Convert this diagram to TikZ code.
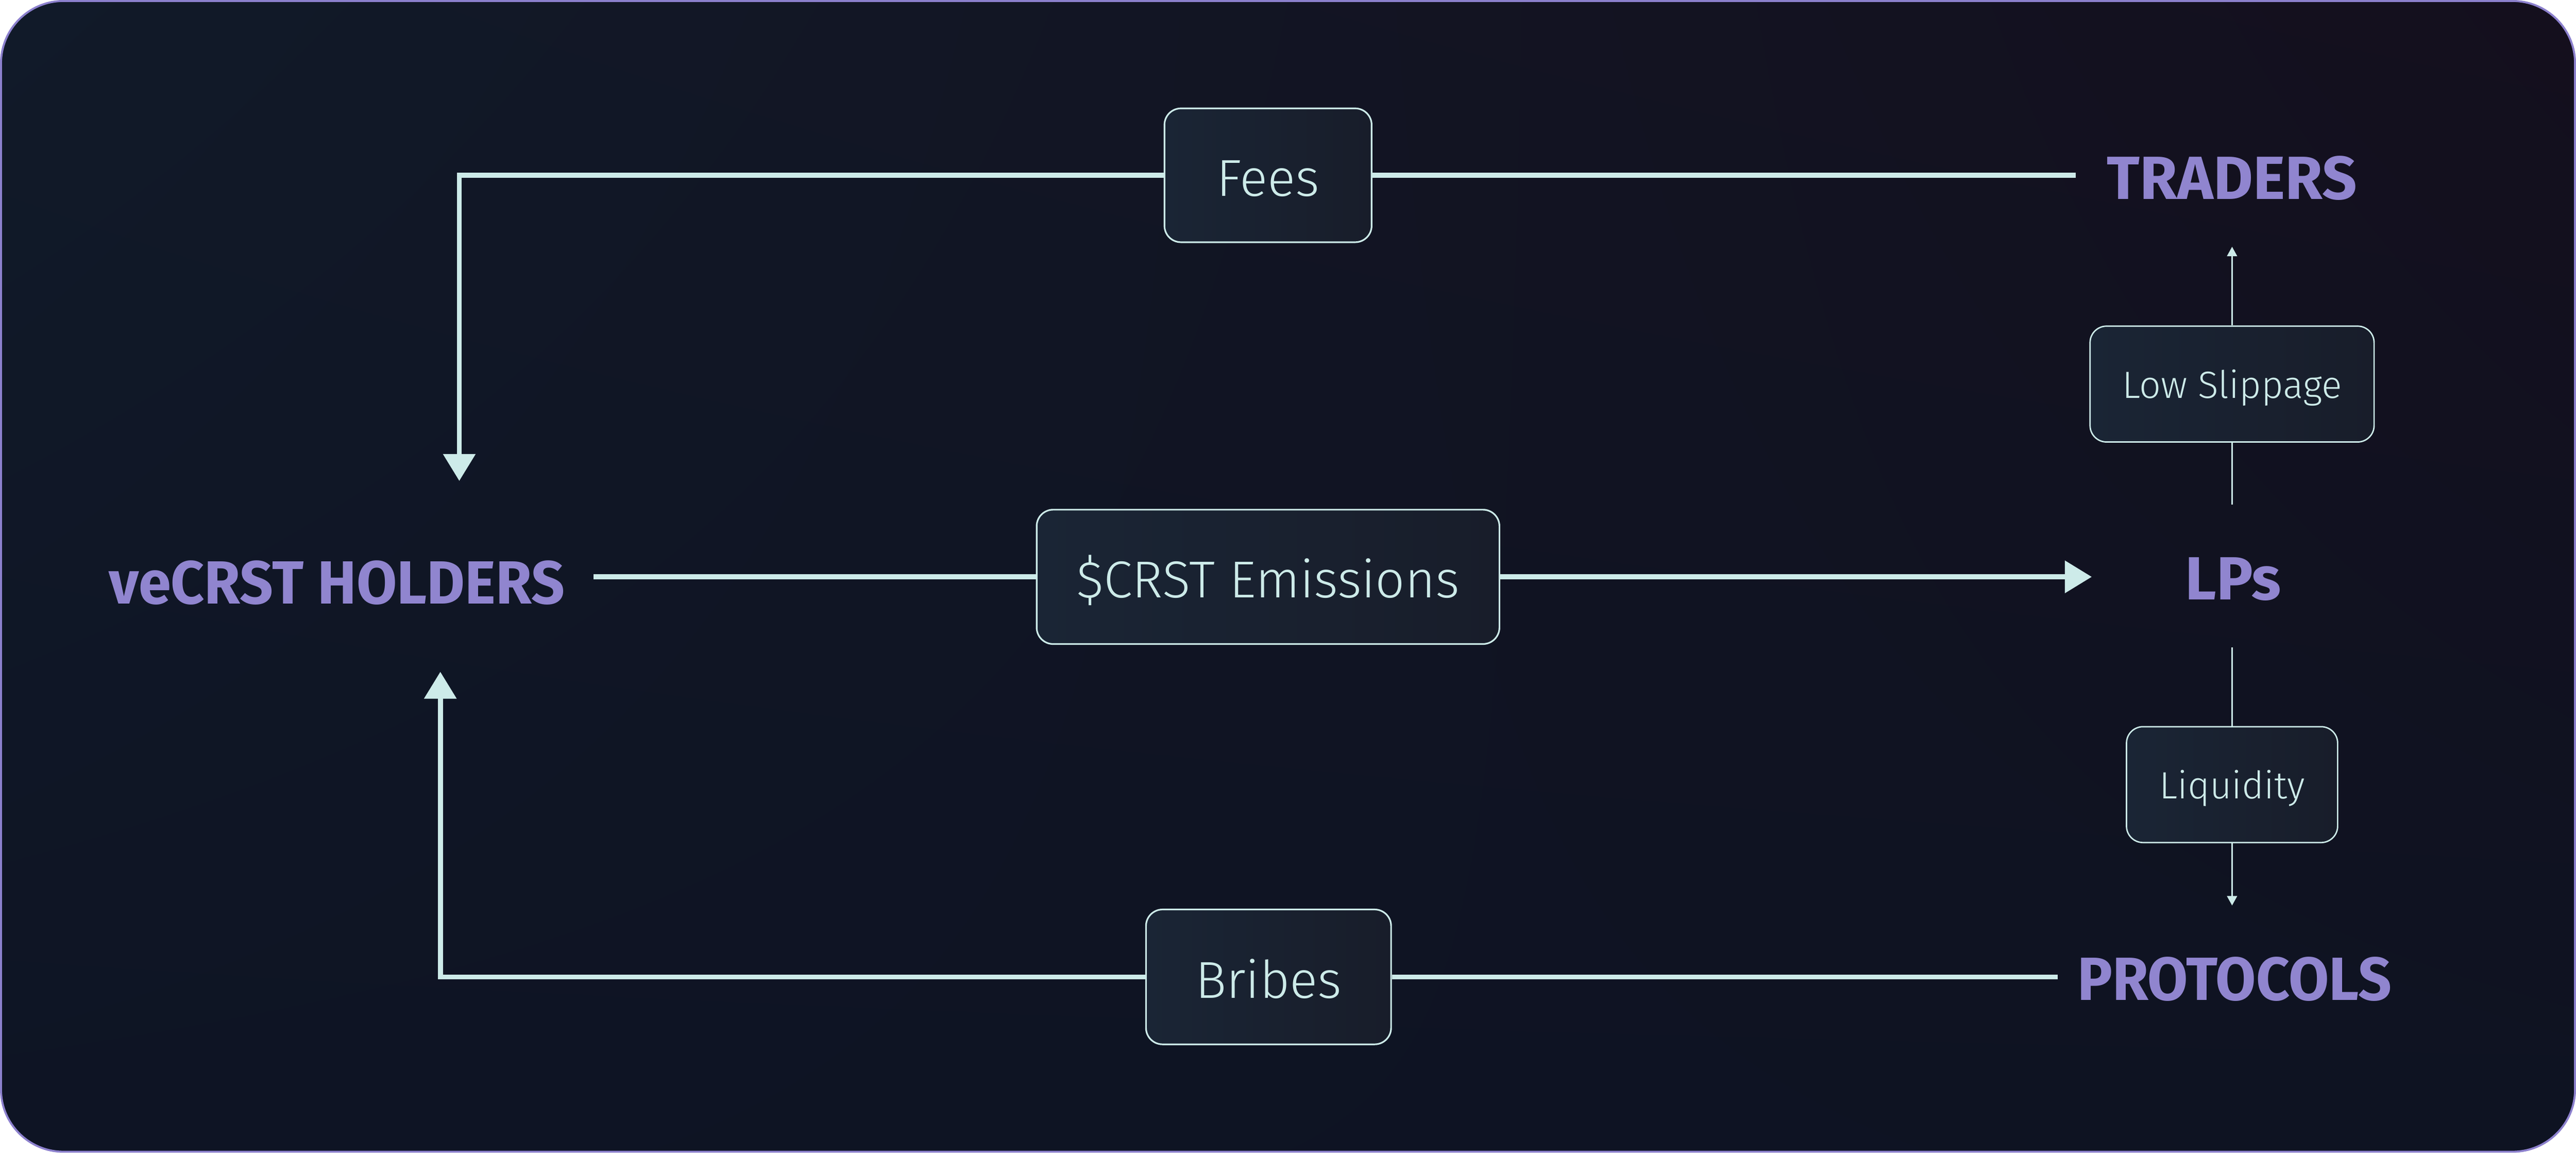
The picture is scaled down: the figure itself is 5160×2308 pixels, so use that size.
\documentclass[tikz,border=0pt]{standalone}
\usepackage{fontspec}
\setmainfont{Fira Sans}
\newfontfamily\lightfont{Fira Sans Light}
\usetikzlibrary{arrows.meta,shadings}
\definecolor{purp}{HTML}{9085CF}
\definecolor{framec}{HTML}{8C80CD}
\definecolor{cyanl}{HTML}{CDEBE9}
\definecolor{boxl}{HTML}{1A2535}
\definecolor{boxr}{HTML}{181D2A}
\definecolor{bgul}{HTML}{111A29}
\definecolor{bgur}{HTML}{140F1D}
\definecolor{bgll}{HTML}{0E1424}
\definecolor{bglr}{HTML}{0E1322}
\tikzset{
  actor/.style={inner sep=0pt, text=purp, font=\bfseries\fontsize{12.2pt}{12.2pt}\selectfont, text height=8.4pt, text depth=0pt},
  narrowactor/.style={actor, font=\bfseries\addfontfeatures{FakeStretch=0.96}\fontsize{12.2pt}{12.2pt}\selectfont},
  flowbox/.style={draw=cyanl, line width=0.33pt, rounded corners=3.3pt, left color=boxl, right color=boxr, text=cyanl, inner sep=0pt},
  bigtext/.style={font=\lightfont\fontsize{10.4pt}{10.4pt}\selectfont, text height=8.4pt, text depth=0pt},
  smalltext/.style={font=\lightfont\fontsize{7.6pt}{7.6pt}\selectfont, text height=5.6pt, text depth=0pt},
  mainline/.style={draw=cyanl, line width=1pt},
  mainarrow/.style={mainline, -{Triangle[width=6.3pt,length=5.4pt]}},
  thinline/.style={draw=cyanl, line width=0.3pt},
  thinarrow/.style={thinline, -{Triangle[width=2pt,length=1.9pt]}}
}
\begin{document}
\begin{tikzpicture}[x=0.1pt,y=-0.1pt]
\useasboundingbox (0,0) rectangle (5160,2308);
\fill[white] (0,0) rectangle (5160,2308);
\shade[rounded corners=12.5pt, upper left=bgul, upper right=bgur, lower left=bgll, lower right=bglr] (2,2) rectangle (5158,2306);
\draw[framec, line width=0.4pt, rounded corners=12.5pt] (2,2) rectangle (5158,2306);

% actors
\node[narrowactor] (vecrst) at (675,1167) {veCRST HOLDERS};
\node[actor] (traders) at (4471,357) {TRADERS};
\node[actor] (lps) at (4473,1159) {LPs};
\node[narrowactor] (protocols) at (4476,1961) {PROTOCOLS};

% flow boxes
\node[flowbox, bigtext, minimum width=41.5pt, minimum height=26.8pt] (fees) at (2540,351) {Fees};
\node[flowbox, bigtext, minimum width=92.7pt, minimum height=26.9pt] (emis) at (2540,1155) {\$CRST Emissions};
\node[flowbox, bigtext, minimum width=49.1pt, minimum height=27pt] (bribes) at (2541,1956) {Bribes};
\node[flowbox, smalltext, line width=0.28pt, minimum width=56.9pt, minimum height=23.2pt] (slip) at (4471,769) {Low Slippage};
\node[flowbox, smalltext, line width=0.28pt, minimum width=42.3pt, minimum height=23.2pt] (liq) at (4471,1571) {Liquidity};

% free ends
\coordinate (tradersIn) at (4158,351);
\coordinate (holdersTop) at (920,963);
\coordinate (holdersOut) at (1189,1155);
\coordinate (lpsIn) at (4190,1155);
\coordinate (lpsUp) at (4471,1010);
\coordinate (tradersTip) at (4471,494);
\coordinate (lpsDown) at (4471,1296);
\coordinate (protoTip) at (4471,1813);
\coordinate (protoOut) at (4122,1956);
\coordinate (holdersBot) at (882,1345);

% connectors
\draw[mainline] (tradersIn) -- (fees.east);
\draw[mainarrow] (fees.west) -| (holdersTop);
\draw[mainline] (holdersOut) -- (emis.west);
\draw[mainarrow] (emis.east) -- (lpsIn);
\draw[thinline] (lpsUp) -- (slip.south);
\draw[thinarrow] (slip.north) -- (tradersTip);
\draw[thinline] (lpsDown) -- (liq.north);
\draw[thinarrow] (liq.south) -- (protoTip);
\draw[mainline] (protoOut) -- (bribes.east);
\draw[mainarrow] (bribes.west) -| (holdersBot);
\end{tikzpicture}
\end{document}
